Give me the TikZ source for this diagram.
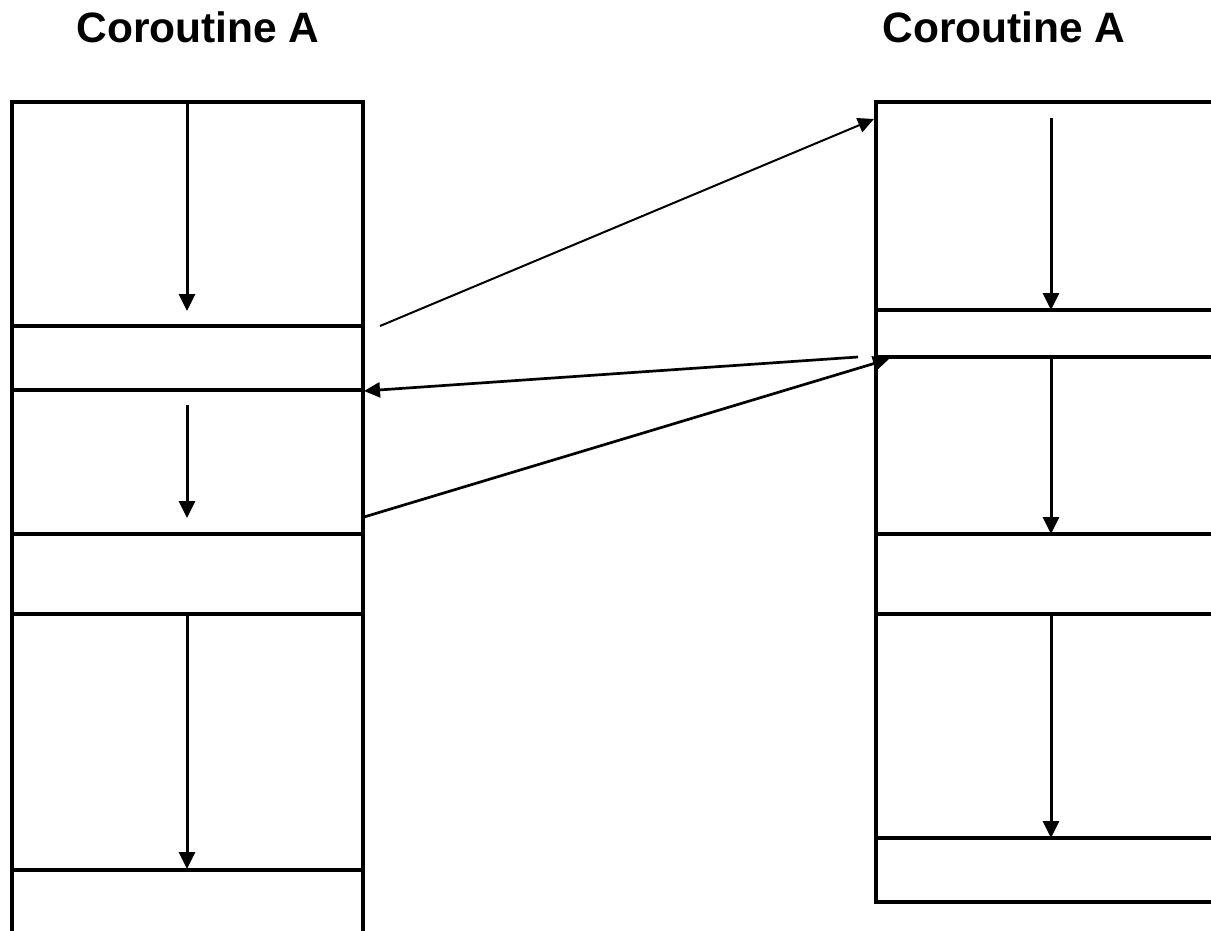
\documentclass[tikz,border=0pt]{standalone}
\usepackage{fontspec}
\setmainfont{Liberation Sans}
\usetikzlibrary{arrows.meta}
\tikzset{
  frame/.style={line width=3.3pt, line cap=rect},
  flow/.style={line width=3pt, -{Triangle[length=17pt,width=16pt]}},
  jump/.style={line width=2.7pt, -{Triangle[length=16pt,width=15pt]}},
  thinjump/.style={line width=2pt, -{Triangle[length=16pt,width=15pt]}},
  title/.style={font=\bfseries\fontsize{42.5}{50}\selectfont, anchor=base, inner sep=0pt}
}
\begin{document}
\begin{tikzpicture}[x=1pt,y=-1pt]
\useasboundingbox (0,0) rectangle (1211,931);
\clip (0,0) rectangle (1211,931);

% titles
\node[title] (tA) at (198,43) {Coroutine A};
\node[title] (tB) at (1004,43) {Coroutine A};

% left stack (continues below the page)
\draw[frame] (12,960) -- (12,102) -- (363,102) -- (363,960);
\foreach \y in {326,390,534,614,870}
  \draw[frame] (12,\y) -- (363,\y);

% right stack (continues past the right edge)
\draw[frame] (1230,102) -- (876,102) -- (876,902) -- (1230,902);
\foreach \y in {310,357,534,614,838}
  \draw[frame] (876,\y) -- (1230,\y);

% flow inside the left stack
\coordinate (la1) at (187,102);  \coordinate (lb1) at (187,311);
\coordinate (la2) at (187,405);  \coordinate (lb2) at (187,518);
\coordinate (la3) at (187,614);  \coordinate (lb3) at (187,869);
\draw[flow] (la1) -- (lb1);
\draw[flow] (la2) -- (lb2);
\draw[flow] (la3) -- (lb3);

% flow inside the right stack
\coordinate (ra1) at (1051,118); \coordinate (rb1) at (1051,310);
\coordinate (ra2) at (1051,357); \coordinate (rb2) at (1051,534);
\coordinate (ra3) at (1051,614); \coordinate (rb3) at (1051,838);
\draw[flow] (ra1) -- (rb1);
\draw[flow] (ra2) -- (rb2);
\draw[flow] (ra3) -- (rb3);

% transfers between the two stacks
\coordinate (c1s) at (380,326); \coordinate (c1e) at (874,119);
\coordinate (c2s) at (858,357); \coordinate (c2e) at (364,391);
\coordinate (c3s) at (364,517); \coordinate (c3e) at (889,359);
\draw[thinjump] (c1s) -- (c1e);
\draw[jump] (c2s) -- (c2e);
\draw[jump] (c3s) -- (c3e);
\end{tikzpicture}
\end{document}
